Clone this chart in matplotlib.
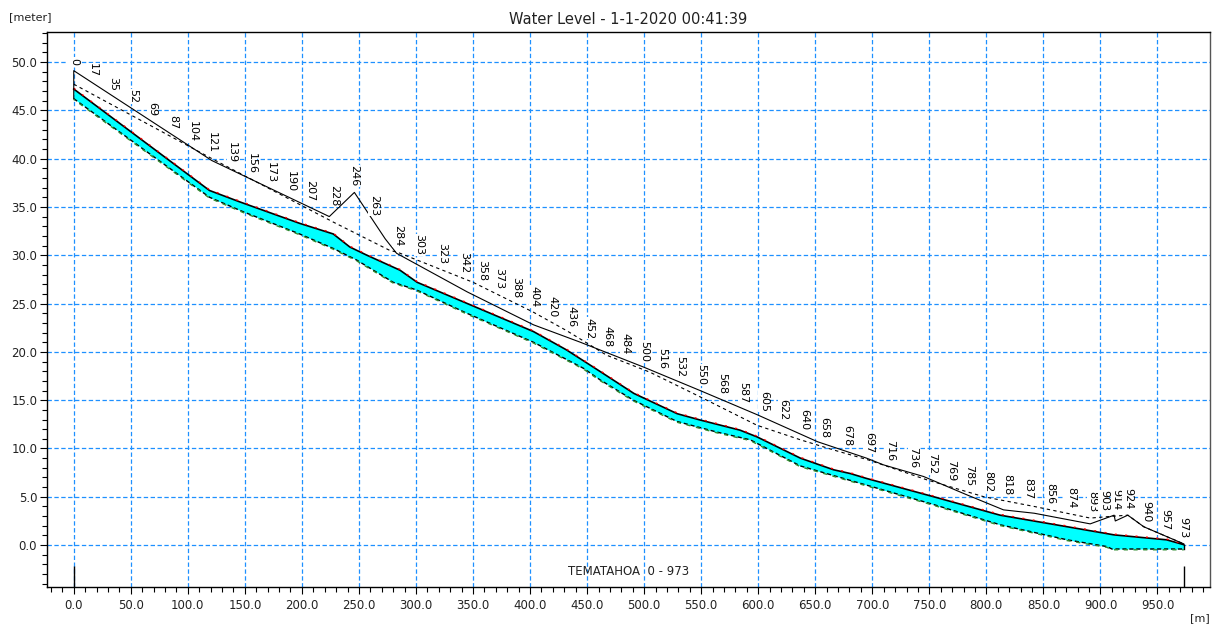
import numpy as np
import matplotlib
matplotlib.use("Agg")
import matplotlib.pyplot as plt
from matplotlib.ticker import MultipleLocator, FormatStrFormatter

# Perfil longitudinal
reach_name = "TEMATAHOA"
reach_start = 0
reach_end = 973
title = "Water Level - 1-1-2020 00:41:39"

chainages = [0, 17, 35, 52, 69, 87, 104, 121, 139, 156, 173, 190, 207, 228, 246,
             263, 284, 303, 323, 342, 358, 373, 388, 404, 420, 436, 452, 468, 484,
             500, 516, 532, 550, 568, 587, 605, 622, 640, 658, 678, 697, 716, 736,
             752, 769, 785, 802, 818, 837, 856, 874, 893, 903, 914, 924, 940, 957, 973]

# margem 1 (linha continua)
bank1_x = [0, 0, 121, 224, 246, 273, 283, 345, 403, 444, 499, 549, 599, 652, 695,
           710, 745, 783, 815, 842, 891, 912, 913, 924, 938, 973]
bank1_y = [46.2, 49.1, 39.8, 34.0, 36.5, 31.7, 30.2, 26.2, 22.8, 21.0, 18.45, 16.0,
           13.5, 10.7, 9.0, 8.3, 7.1, 5.2, 3.65, 3.3, 2.2, 3.1, 2.5, 3.1, 1.9, 0.13]

# margem 2 (linha tracejada)
bank2_x = [0, 121, 228, 277, 284, 350, 403, 432, 450, 467, 505, 549, 599, 637, 666,
           697, 748, 798, 842, 891, 912, 924, 938, 973]
bank2_y = [47.7, 40.0, 33.4, 30.5, 30.3, 27.2, 24.1, 22.2, 20.9, 19.66, 17.9, 15.35,
           12.4, 10.9, 9.85, 8.8, 6.75, 5.0, 4.0, 2.8, 3.0, 3.1, 1.9, 0.13]

# nivel d'agua
water_x = [0, 119, 146, 198, 227.5, 242, 257, 286, 301, 345, 403, 432, 461, 491, 529,
           549, 584, 599, 637, 666, 681, 695, 754, 812, 871, 912, 958, 973]
water_y = [47.2, 36.7, 35.5, 33.3, 32.2, 30.85, 30.0, 28.45, 27.2, 25.0, 22.1, 20.2,
           18.0, 15.7, 13.6, 12.95, 11.9, 11.2, 9.0, 7.8, 7.4, 6.9, 5.0, 3.1, 1.9,
           1.06, 0.55, 0.05]

# fundo do canal
bed_x = [0, 119, 148.5, 198, 227.5, 248, 280, 300.6, 344.5, 402.9, 446.8, 461.4,
         490.6, 528.7, 563.8, 593, 636.8, 695.3, 753.8, 812.3, 870.8, 905.8, 910, 973]
bed_y = [46.2, 36.0, 34.5, 32.2, 30.7, 29.5, 27.2, 26.4, 24.0, 21.0, 18.3, 17.1,
         15.0, 12.8, 11.7, 10.9, 8.2, 6.2, 4.2, 2.1, 0.55, -0.15, -0.4, -0.4]

GRID_BLUE = "#1E90FF"
TEXT = "#222222"

fig = plt.figure(figsize=(12.13, 6.25), dpi=100)
ax = fig.add_axes([0.0387, 0.0613, 0.9588, 0.8875])

# agua entre o fundo e o nivel
grid_x = np.union1d(water_x, bed_x)
top = np.interp(grid_x, water_x, water_y)
bottom = np.interp(grid_x, bed_x, bed_y)
ax.fill_between(grid_x, bottom, top, color="#00FFFF", lw=0, zorder=2)
ax.plot(water_x, water_y, color="black", lw=1.2, zorder=3)
ax.plot(water_x, np.array(water_y) + 0.08, color="red", lw=1.0,
        ls=(0, (1.5, 6)), zorder=3)
ax.plot(bed_x, bed_y, color="black", lw=1.0, ls=(0, (3, 2)), zorder=3)
ax.plot(bed_x, np.array(bed_y) - 0.08, color="#2e8b2e", lw=1.0,
        ls=(2, (3, 4)), zorder=3)
ax.plot([bed_x[-1], water_x[-1]], [bed_y[-1], water_y[-1]], color="black", lw=1.0, zorder=3)

# margens
ax.plot(bank1_x, bank1_y, color="black", lw=0.8, zorder=3)
ax.plot(bank2_x, bank2_y, color="black", lw=0.8, ls=(0, (3, 3)), zorder=3)

# rotulos das secoes
top_bank = np.maximum(np.interp(chainages, bank1_x, bank1_y),
                      np.interp(chainages, bank2_x, bank2_y))
for c, y in zip(chainages, top_bank):
    ax.text(c, y + 0.6, str(c), rotation=-90, ha="center", va="bottom",
            fontsize=8, color="black", zorder=4,
            bbox=dict(facecolor="white", edgecolor="none", pad=0.3))

ax.set_xlim(-23.5, 996)
ax.set_ylim(-4.3, 53.1)

# marcas inicio/fim do trecho
ax.vlines([reach_start, reach_end], -4.3, -2.2, color="black", lw=1.0, zorder=3)
ax.text((reach_start + reach_end) / 2, -2.75, f"{reach_name}  {reach_start} - {reach_end}",
        ha="center", va="center", fontsize=8.5, color=TEXT)

ax.xaxis.set_major_locator(MultipleLocator(50))
ax.xaxis.set_minor_locator(MultipleLocator(10))
ax.yaxis.set_major_locator(MultipleLocator(5))
ax.yaxis.set_minor_locator(MultipleLocator(1))
ax.xaxis.set_major_formatter(FormatStrFormatter("%.1f"))
ax.yaxis.set_major_formatter(FormatStrFormatter("%.1f"))
ax.tick_params(axis="both", which="major", length=5, width=0.8, labelsize=8.5,
               labelcolor=TEXT, direction="out")
ax.tick_params(axis="both", which="minor", length=3.5, width=0.8, direction="out")
ax.tick_params(axis="x", which="major", pad=4)
ax.tick_params(axis="y", which="major", pad=2)

ax.grid(True, which="major", color=GRID_BLUE, lw=0.9, ls=(0, (3.5, 2)), zorder=1)
ax.set_axisbelow(True)

for side in ["left", "bottom", "top"]:
    ax.spines[side].set_color("black")
    ax.spines[side].set_linewidth(1.0)
ax.spines["right"].set_color("#555555")
ax.spines["right"].set_linewidth(1.0)

ax.set_title(title, fontsize=10.5, color=TEXT, pad=6)
fig.text(0.0075, 0.973, "[meter]", fontsize=8, color=TEXT, ha="left", va="center")
fig.text(0.997, 0.011, "[m]", fontsize=8, color=TEXT, ha="right", va="center")

fig.savefig("out.png", dpi=100)
